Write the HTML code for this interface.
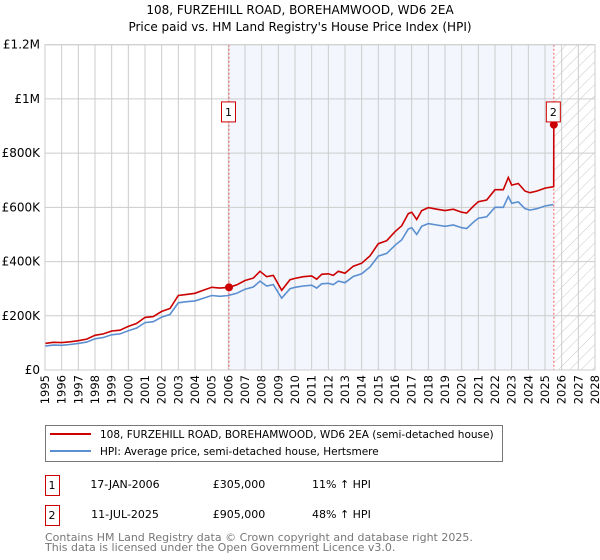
<!DOCTYPE html>
<html><head><meta charset="utf-8"><style>
body{margin:0;background:#fff;font-family:"DejaVu Sans","Liberation Sans",sans-serif;}
svg{display:block}
</style></head><body>
<svg id="c" width="600" height="560" viewBox="0 0 600 560" xmlns="http://www.w3.org/2000/svg">
<defs><pattern id="hatch" width="8" height="8" patternUnits="userSpaceOnUse" patternTransform="rotate(45)"><line x1="0" y1="0" x2="0" y2="8" stroke="#c8c8c8" stroke-width="1"/></pattern></defs>
<text x="300" y="14" text-anchor="middle" font-size="12">108, FURZEHILL ROAD, BOREHAMWOOD, WD6 2EA</text>
<text x="300" y="31" text-anchor="middle" font-size="12">Price paid vs. HM Land Registry's House Price Index (HPI)</text>
<g id="plot"></g>
<g>
<rect x="45.5" y="425.5" width="457" height="36" fill="#fff" stroke="#777"/>
<line x1="50" y1="434" x2="91" y2="434" stroke="#cc0000" stroke-width="2"/>
<text x="100" y="438" font-size="10.5">108, FURZEHILL ROAD, BOREHAMWOOD, WD6 2EA (semi-detached house)</text>
<line x1="50" y1="451" x2="91" y2="451" stroke="#5b8fd0" stroke-width="2"/>
<text x="100" y="455" font-size="10.5">HPI: Average price, semi-detached house, Hertsmere</text>
</g>
<g font-size="11">
<rect x="45.5" y="475.5" width="14" height="20" fill="#fff" stroke="#cc0000"/><text x="52" y="489" text-anchor="middle">1</text>
<text x="125" y="488" text-anchor="middle">17-JAN-2006</text><text x="239" y="488" text-anchor="middle">£305,000</text><text x="312" y="488">11% ↑ HPI</text>
<rect x="45.5" y="505.5" width="14" height="20" fill="#fff" stroke="#cc0000"/><text x="52" y="519" text-anchor="middle">2</text>
<text x="125" y="518" text-anchor="middle">11-JUL-2025</text><text x="239" y="518" text-anchor="middle">£905,000</text><text x="312" y="518">48% ↑ HPI</text>
</g>
<text x="45" y="541" font-size="11" fill="#777">Contains HM Land Registry data © Crown copyright and database right 2025.</text>
<text x="45" y="551" font-size="11" fill="#777">This data is licensed under the Open Government Licence v3.0.</text>
</svg>
<script>
const yTicks=[0,200000,400000,600000,800000,1000000,1200000];
const yTickLabels=["£0","£200K","£400K","£600K","£800K","£1M","£1.2M"];
const years=[1995,1996,1997,1998,1999,2000,2001,2002,2003,2004,2005,2006,2007,2008,2009,2010,2011,2012,2013,2014,2015,2016,2017,2018,2019,2020,2021,2022,2023,2024,2025,2026,2027,2028];
const hpiT=[1995,1995.5,1996,1996.5,1997,1997.5,1998,1998.5,1999,1999.5,2000,2000.5,2001,2001.5,2002,2002.5,2003,2003.5,2004,2004.5,2005,2005.5,2006,2006.5,2007,2007.5,2007.9,2008.3,2008.7,2009.2,2009.7,2010,2010.5,2011,2011.3,2011.6,2012,2012.3,2012.6,2013,2013.5,2014,2014.5,2015,2015.5,2016,2016.4,2016.8,2017,2017.3,2017.6,2018,2018.5,2019,2019.5,2020,2020.3,2020.7,2021,2021.5,2022,2022.5,2022.8,2023,2023.4,2023.8,2024.1,2024.5,2025,2025.5];
const hpiV=[88000,92000,91000,94000,98000,103000,115000,120000,130000,133000,145000,155000,175000,178000,195000,205000,248000,252000,255000,265000,275000,272000,275000,283000,298000,306000,328000,310000,315000,265000,300000,305000,310000,313000,302000,318000,320000,315000,328000,322000,345000,355000,380000,420000,430000,460000,480000,520000,525000,500000,530000,540000,535000,530000,535000,525000,522000,545000,560000,565000,600000,600000,640000,615000,620000,595000,590000,595000,605000,610000];
const propT=[1995,1995.5,1996,1996.5,1997,1997.5,1998,1998.5,1999,1999.5,2000,2000.5,2001,2001.5,2002,2002.5,2003,2003.5,2004,2004.5,2005,2005.5,2006.04,2006.5,2007,2007.5,2007.9,2008.3,2008.7,2009.2,2009.7,2010,2010.5,2011,2011.3,2011.6,2012,2012.3,2012.6,2013,2013.5,2014,2014.5,2015,2015.5,2016,2016.4,2016.8,2017,2017.3,2017.6,2018,2018.5,2019,2019.5,2020,2020.3,2020.7,2021,2021.5,2022,2022.5,2022.8,2023,2023.4,2023.8,2024.1,2024.5,2025,2025.52,2025.53];
const propV=[98000,102000,101000,104000,108000,114000,128000,133000,144000,147000,161000,172000,194000,197000,216000,227000,275000,279000,283000,294000,305000,302000,305000,314000,330000,339000,364000,344000,349000,294000,333000,338000,344000,347000,335000,353000,355000,349000,364000,357000,383000,394000,421000,466000,477000,510000,532000,577000,582000,555000,588000,599000,593000,588000,593000,582000,579000,604000,621000,627000,665000,665000,710000,682000,688000,660000,654000,660000,671000,676000,905000];
const sales=[{n:"1",t:2006.04,v:305000},{n:"2",t:2025.53,v:905000}];
const X0=45,X1=595,Y0=370,Y1=44.7;
const xs=t=>X0+(t-1995)/(2028-1995)*(X1-X0);
const ys=v=>Y0-v/1200000*(Y0-Y1);
const NS="http://www.w3.org/2000/svg";
const g=document.getElementById('plot');
function mk(tag,attrs,parent){const e=document.createElementNS(NS,tag);for(const k in attrs)e.setAttribute(k,attrs[k]);(parent||g).appendChild(e);return e;}
let e;
e=mk('rect',{x:xs(sales[0].t),y:Y1,width:xs(sales[1].t)-xs(sales[0].t),height:Y0-Y1,fill:'#f3f6fd'});


e=mk('rect',{x:xs(sales[1].t),y:Y1,width:X1-xs(sales[1].t),height:Y0-Y1,fill:'url(#hatch)'});


years.forEach(y=>{const x=xs(y);
e=mk('line',{x1:x,x2:x,y1:Y1,y2:Y0,stroke:'#cccccc','stroke-width':1});


e=mk('text',{transform:`translate(${x+4},${Y0+5}) rotate(-90)`,'text-anchor':'end','font-size':11.5});e.textContent=y;

});
yTicks.forEach((v,i)=>{const y=ys(v);
e=mk('line',{x1:X0,x2:X1,y1:y,y2:y,stroke:'#cccccc','stroke-width':1});


e=mk('text',{x:X0-5,y:y+4,'text-anchor':'end','font-size':12});e.textContent=yTickLabels[i];

});
sales.forEach(s=>{e=mk('line',{x1:xs(s.t),x2:xs(s.t),y1:Y1,y2:Y0,stroke:'#f06060','stroke-width':1,'stroke-dasharray':'2,2'});

});
e=mk('path',{d:hpiT.map((t,i)=>(i?'L':'M')+xs(t).toFixed(1)+','+ys(hpiV[i]).toFixed(1)).join(''),fill:'none',stroke:'#5b8fd0','stroke-width':1.6});


e=mk('path',{d:propT.map((t,i)=>(i?'L':'M')+xs(t).toFixed(1)+','+ys(propV[i]).toFixed(1)).join(''),fill:'none',stroke:'#cc0000','stroke-width':1.6});


sales.forEach(s=>{const x=xs(s.t),y=ys(s.v);
e=mk('circle',{cx:x,cy:y,r:4,fill:'#cc0000'});


e=mk('rect',{x:x-7.5,y:ys(1000000)+3,width:14,height:20,fill:'#fff',stroke:'#cc0000'});


e=mk('text',{x:x-0.5,y:ys(1000000)+17,'text-anchor':'middle','font-size':11});e.textContent=s.n;

});
e=mk('rect',{x:X0,y:Y1,width:X1-X0,height:Y0-Y1,fill:'none',stroke:'#cccccc'});


</script>
</body></html>
